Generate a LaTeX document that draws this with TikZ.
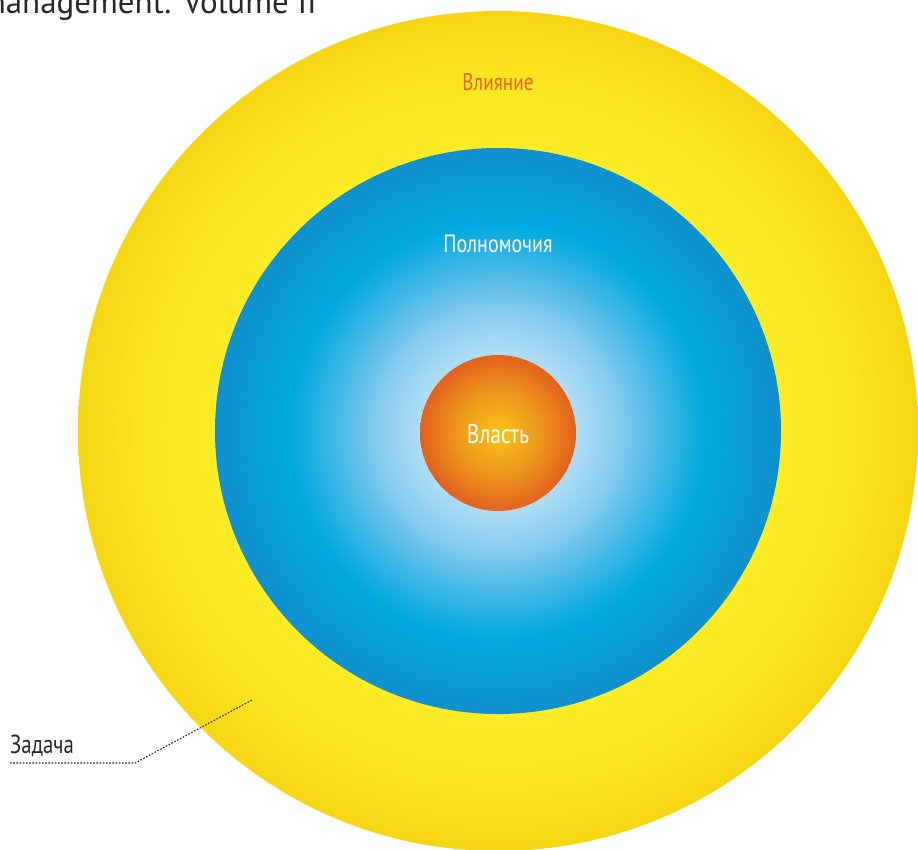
\documentclass[tikz,border=0pt]{standalone}
\usepackage{fontspec}
\setmainfont{PT Sans}[FakeStretch=0.8]
\newfontfamily\titlefont{PT Sans}
\usetikzlibrary{positioning}

\definecolor{yelInner}{HTML}{FBEC26}
\definecolor{yelMid}{HTML}{F9E61F}
\definecolor{yelOuter}{HTML}{F6D614}
\definecolor{bluCenter}{HTML}{DAEFFA}
\definecolor{bluPale}{HTML}{B0DDF4}
\definecolor{bluLight}{HTML}{8ACDEF}
\definecolor{bluMid}{HTML}{3DB6E6}
\definecolor{bluStrong}{HTML}{00A9E0}
\definecolor{bluEdge}{HTML}{1190CE}
\definecolor{orgCenter}{HTML}{F9C418}
\definecolor{orgMid}{HTML}{EE9A1C}
\definecolor{orgEdge}{HTML}{E2621F}
\definecolor{inkGray}{HTML}{26262B}
\definecolor{labelOrange}{HTML}{E8652A}

% radial shadings, 25bp is the rim of the circle
\pgfdeclareradialshading{influence}{\pgfpoint{0bp}{0bp}}{color(0bp)=(yelInner); color(16.8bp)=(yelInner); color(21bp)=(yelMid); color(25bp)=(yelOuter); color(50bp)=(yelOuter)}
\pgfdeclareradialshading{authority}{\pgfpoint{0bp}{0bp}}{color(0bp)=(bluCenter); color(6.9bp)=(bluPale); color(10.4bp)=(bluLight); color(14.8bp)=(bluMid); color(18.4bp)=(bluStrong); color(25bp)=(bluEdge); color(50bp)=(bluEdge)}
\pgfdeclareradialshading{power}{\pgfpoint{0bp}{0bp}}{color(0bp)=(orgCenter); color(12.5bp)=(orgMid); color(25bp)=(orgEdge); color(50bp)=(orgEdge)}

\tikzset{x=1pt, y=-1pt, % pixel-like units
ring/.style={ % Sets the properties for each disc
circle, draw=none, inner sep=0pt},
ringlabel/.style={ % Text inside the discs
font=\fontsize{25}{25}\selectfont, text=white},
pointer/.style={ % Dotted leader line
draw=inkGray, line width=1.1pt, dash pattern=on 1.6pt off 1.6pt}}

\begin{document}
\begin{tikzpicture}
    
    \clip (0,0) rectangle (918,849);
    
    \node[ring, shading=influence, minimum size=840] (influence) at (498,431) {};
    \node[ring, shading=authority, minimum size=566] (authority) at (498,431) {};
    \node[ring, shading=power, minimum size=156] (power) at (498,433) {};
    
    \node[ringlabel, text=labelOrange, font=\fontsize{24}{24}\selectfont] (influencetext) at (498,82) {Влияние};
    \node[ringlabel] (authoritytext) at (498,244) {Полномочия};
    \node[ringlabel, font=\fontsize{27}{27}\selectfont] (powertext) at (498,434) {Власть};
    
    \node[anchor=base east, text=inkGray, font=\titlefont\fontsize{33}{33}\selectfont, inner sep=0pt] (title) at (317,13) {management. Volume II};
    
    \node[anchor=base west, text=inkGray, font=\fontsize{26}{26}\selectfont, inner sep=0pt] (task) at (10,753) {Задача};
    \coordinate (taskstart) at (10,763);
    \coordinate (taskbend) at (135,763);
    \coordinate (taskend) at (252,700);
    \draw[pointer] (taskstart) -- (taskbend) -- (taskend);
    
\end{tikzpicture}
\end{document}
